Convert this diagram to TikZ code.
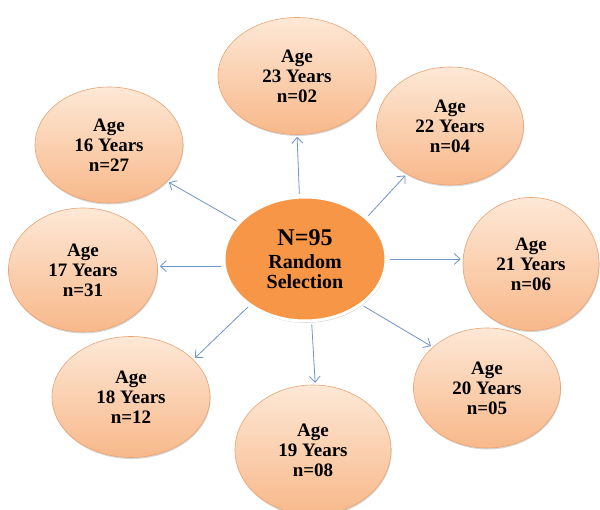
\documentclass[tikz,border=0pt]{standalone}
\usepackage{fontspec}
\setmainfont{Liberation Serif}
\usetikzlibrary{shapes.geometric,arrows.meta,shadows}
\definecolor{peachtop}{RGB}{253,232,214}
\definecolor{peachbot}{RGB}{248,184,138}
\definecolor{peachline}{RGB}{232,164,118}
\definecolor{centerorange}{RGB}{247,150,70}
\definecolor{arrowblue}{RGB}{110,148,200}
\newcommand{\bigline}{\fontsize{24}{24}\selectfont}
\tikzset{
  agebox/.style={ellipse, inner sep=0pt, top color=peachtop, bottom color=peachbot,
    draw=peachline, line width=0.6pt, align=center, text=black,
    font=\bfseries\fontsize{19}{20}\selectfont,
    drop shadow={shadow xshift=0.6pt, shadow yshift=-1.5pt, opacity=0.25, fill=black!60}},
  centerbox/.style={ellipse, inner sep=0pt, fill=centerorange, draw=white, line width=3pt,
    align=center, text=black, font=\bfseries\fontsize{20}{20}\selectfont,
    drop shadow={shadow xshift=0.8pt, shadow yshift=-1.8pt, opacity=0.35, fill=black!60}},
  link/.style={draw=arrowblue, line width=0.8pt,
    -{Straight Barb[length=6pt,width=11pt,line width=0.8pt]}, shorten >=2pt, shorten <=2pt}
}
\begin{document}
\begin{tikzpicture}[x=1pt,y=-1pt]
\useasboundingbox[fill=white] (0,0) rectangle (600,510);
\node[centerbox, minimum width=162pt, minimum height=124pt] (c) at (305,259)
  {\bigline N=95\\[3pt]Random\\Selection};
\node[agebox, minimum width=158pt, minimum height=117pt] (n23) at (297,76) {Age\\23 Years\\n=02};
\node[agebox, minimum width=147pt, minimum height=118pt] (n22) at (450,126) {Age\\22 Years\\n=04};
\node[agebox, minimum width=136pt, minimum height=133pt] (n21) at (531,264) {Age\\21 Years\\n=06};
\node[agebox, minimum width=147pt, minimum height=120pt] (n20) at (487,388) {Age\\20 Years\\n=05};
\node[agebox, minimum width=156pt, minimum height=130pt] (n19) at (313,450) {Age\\19 Years\\n=08};
\node[agebox, minimum width=158pt, minimum height=121pt] (n18) at (131,397) {Age\\18 Years\\n=12};
\node[agebox, minimum width=149pt, minimum height=124pt] (n17) at (83,270) {Age\\17 Years\\n=31};
\node[agebox, minimum width=148pt, minimum height=116pt] (n16) at (109,145) {Age\\16 Years\\n=27};
\draw[link] (c.95.9) -- (n23.-90);
\draw[link] (c.34.3) -- (n22.228.2);
\draw[link] (c.0) -- (c.0 -| n21.west);
\draw[link] (c.-39.5) -- (n20.143.9);
\draw[link] (c.-84) -- (n19.88.3);
\draw[link] (c.220.6) -- (n18.31.6);
\draw[link] (c.185.4) -- (c.185.4 -| n17.east);
\draw[link] (c.151.8) -- (n16.-32.8);
\end{tikzpicture}
\end{document}
